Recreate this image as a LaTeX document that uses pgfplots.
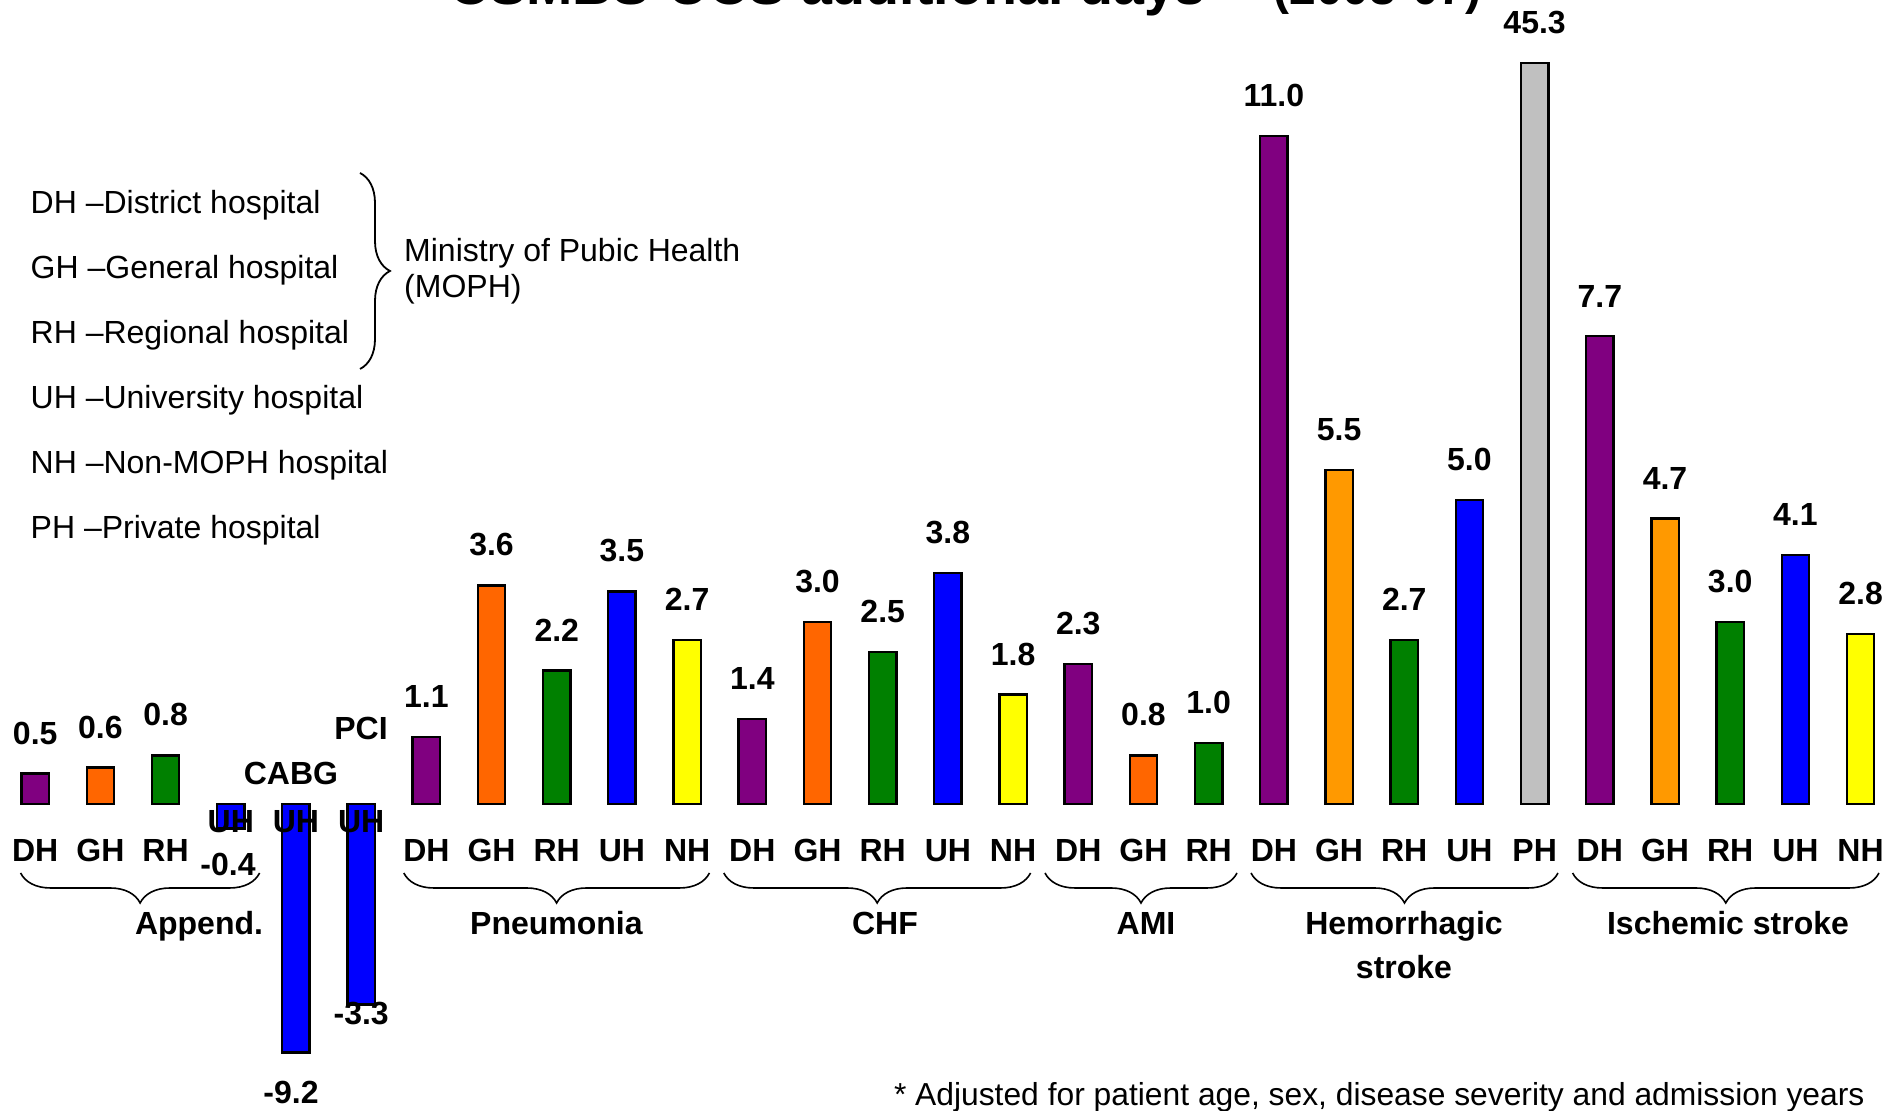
\documentclass[border=0pt]{standalone}
\usepackage{pgfplots}
\pgfplotsset{compat=1.18}
\usepackage{pgfplotstable}
\usepackage{fontspec}
\setmainfont{Liberation Sans}
\usetikzlibrary{decorations.pathreplacing}
\definecolor{cpurple}{RGB}{128,0,128}
\definecolor{corange}{RGB}{255,102,0}
\definecolor{camber}{RGB}{255,153,0}
\definecolor{cgreen}{RGB}{0,128,0}
\definecolor{cblue}{RGB}{0,0,255}
\definecolor{cyellow}{RGB}{255,255,0}
\definecolor{cgrey}{RGB}{192,192,192}
\newcommand\lblfont{\fontsize{16}{19}\selectfont\bfseries}
\newcommand\legfont{\fontsize{16}{19}\selectfont}

% x = bar position (0..28), y = additional days
\pgfplotstableread{
x y
0 0.5
6 1.1
11 1.4
16 2.3
19 11.0
24 7.7
}\purpletab
\pgfplotstableread{
x y
1 0.6
7 3.6
12 3.0
17 0.8
}\orangetab
\pgfplotstableread{
x y
20 5.5
25 4.7
}\ambertab
\pgfplotstableread{
x y
2 0.8
8 2.2
13 2.5
18 1.0
21 2.7
26 3.0
}\greentab
\pgfplotstableread{
x y
9 3.5
14 3.8
22 5.0
27 4.1
}\bluetab
\pgfplotstableread{
x y
3 -0.4
4 -9.2
5 -3.3
}\blueneg
\pgfplotstableread{
x y
10 2.7
15 1.8
28 2.8
}\yellowtab
\pgfplotstableread{
x y
23 45.3
}\greytab

\begin{document}
\begin{tikzpicture}
\path[use as bounding box, clip] (0,0) rectangle (950.5pt,555.5pt);
\begin{axis}[
  at={(0pt,0pt)}, anchor=south west,
  scale only axis, width=950.5pt, height=555.5pt,
  xmin=-0.540, xmax=28.62, ymin=-5.053, ymax=13.235,
  axis x line*=bottom, axis y line=none,
  x axis line style={draw=none},
  major tick length=0pt,
  xtick={0,...,28},
  xticklabels={DH,GH,RH,,,,DH,GH,RH,UH,NH,DH,GH,RH,UH,NH,DH,GH,RH,DH,GH,RH,UH,PH,DH,GH,RH,UH,NH},
  xticklabel style={font=\lblfont, anchor=center, yshift=130.35pt, inner sep=0pt},
  ytick=\empty,
  ybar, bar width=0.42,
  clip=false,
  y filter/.expression={min(max(y,-4.09),12.2)},
  /pgf/number format/assume math mode=true,
  vals/.style={nodes near coords={\pgfmathprintnumber[fixed,fixed zerofill,precision=1]{\pgfplotspointmeta}},
    point meta=explicit,
    every node near coord/.append style={font=\lblfont, anchor=south, inner sep=0pt, yshift=14pt, text=black}},
]
\addplot[draw=black, line width=1.2pt, fill=cpurple, bar shift=0pt, vals] table[x=x,y=y,meta=y] {\purpletab};
\addplot[draw=black, line width=1.2pt, fill=corange, bar shift=0pt, vals] table[x=x,y=y,meta=y] {\orangetab};
\addplot[draw=black, line width=1.2pt, fill=camber, bar shift=0pt, vals] table[x=x,y=y,meta=y] {\ambertab};
\addplot[draw=black, line width=1.2pt, fill=cgreen, bar shift=0pt, vals] table[x=x,y=y,meta=y] {\greentab};
\addplot[draw=black, line width=1.2pt, fill=cblue, bar shift=0pt, vals] table[x=x,y=y,meta=y] {\bluetab};
\addplot[draw=black, line width=1.2pt, fill=cblue, bar shift=0pt] table[x=x,y=y] {\blueneg};
\addplot[draw=black, line width=1.2pt, fill=cyellow, bar shift=0pt, vals] table[x=x,y=y,meta=y] {\yellowtab};
\addplot[draw=black, line width=1.2pt, fill=cgrey, bar shift=0pt, vals] table[x=x,y=y,meta=y] {\greytab};
\end{axis}

% title (cut off at the top edge)
\node[anchor=base west, inner sep=0pt, font=\fontsize{27.8}{32}\selectfont\bfseries] at (224.3pt,553pt) {CSMBS-UCS additional days*};
\node[anchor=base west, inner sep=0pt, font=\fontsize{24}{28}\selectfont\bfseries] at (636.5pt,553pt) {(2003-07)};

% legend text
\begin{scope}[every node/.style={anchor=base west, inner sep=0pt, font=\legfont}]
\node at (15.15pt,448.85pt) {DH --District hospital};
\node at (15.15pt,416.35pt) {GH --General hospital};
\node at (15.15pt,383.85pt) {RH --Regional hospital};
\node at (15.15pt,351.35pt) {UH --University hospital};
\node at (15.15pt,318.85pt) {NH --Non-MOPH hospital};
\node at (15.15pt,286.35pt) {PH --Private hospital};
\node at (201.9pt,424.5pt) {Ministry of Pubic Health};
\node at (201.9pt,406.5pt) {(MOPH)};
\end{scope}
\draw[decorate, decoration={brace, amplitude=15pt}, line width=0.9pt] (180pt,469pt) -- (180pt,371pt);

% special labels for negative bars
\begin{scope}[every node/.style={anchor=base, inner sep=0pt, font=\lblfont}]
\node at (115.4pt,139pt) {UH};
\node at (148pt,139pt) {UH};
\node at (180.6pt,139pt) {UH};
\node at (114pt,117.7pt) {-0.4};
\node at (180.6pt,43.1pt) {-3.3};
\node at (145.5pt,3.7pt) {-9.2};
\node at (145.5pt,163.2pt) {CABG};
\node at (180.5pt,185.7pt) {PCI};
% group labels
\node at (99.5pt,88pt) {Append.};
\node at (278.2pt,88pt) {Pneumonia};
\node at (442.5pt,88pt) {CHF};
\node at (573pt,88pt) {AMI};
\node at (702pt,88pt) {Hemorrhagic};
\node at (702pt,66.2pt) {stroke};
\node at (864pt,88pt) {Ischemic stroke};
\end{scope}

% group braces
\begin{scope}[decoration={brace, mirror, amplitude=15pt}, line width=0.8pt]
\draw[decorate] (10.3pt,119pt) -- (129.8pt,119pt);
\draw[decorate] (201.9pt,119pt) -- (354.7pt,119pt);
\draw[decorate] (361.9pt,119pt) -- (515.3pt,119pt);
\draw[decorate] (522.5pt,119pt) -- (618.5pt,119pt);
\draw[decorate] (625.5pt,119pt) -- (779pt,119pt);
\draw[decorate] (786.3pt,119pt) -- (939.5pt,119pt);
\end{scope}

% footnote
\node[anchor=base west, inner sep=0pt, font=\fontsize{15.9}{18}\selectfont] at (446.8pt,2.5pt) {* Adjusted for patient age, sex, disease severity and admission years};
\end{tikzpicture}
\end{document}
